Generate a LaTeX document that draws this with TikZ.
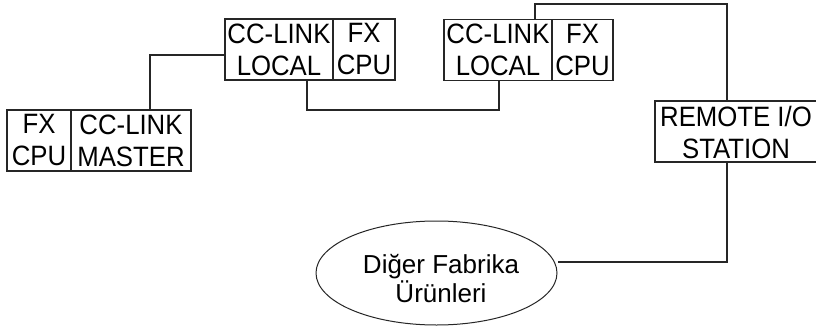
\documentclass[tikz,border=0pt]{standalone}
\usepackage{fontspec}
\setmainfont{Liberation Sans}
\newfontfamily\boxfont[FakeStretch=0.92]{Liberation Sans}
\usetikzlibrary{shapes.geometric}
\begin{document}
\begin{tikzpicture}[x=1pt,y=-1pt,
  box/.style={draw=black!85,line width=1.5pt,rectangle,inner sep=0pt,align=center,
    minimum height=61pt,font=\boxfont\fontsize{28}{32}\selectfont},
  wire/.style={draw=black!85,line width=1.5pt},
  cloud/.style={draw=black!85,line width=1pt,ellipse,inner sep=0pt,
    minimum width=241pt,minimum height=104pt}]
\fill[white] (0,0) rectangle (816,329);
\clip (0,0) rectangle (816,329);
% master
\node[box,minimum width=64pt] (m1) at (39,140.5) {FX\\CPU};
\node[box,minimum width=120pt] (m2) at (131,140.5) {CC-LINK\\MASTER};
% local 1
\node[box,minimum width=108pt] (l1a) at (279,49.5) {CC-LINK\\LOCAL};
\node[box,minimum width=62pt] (l1b) at (364,49.5) {FX\\CPU};
% local 2
\node[box,minimum width=108pt] (l2a) at (498,50) {CC-LINK\\LOCAL};
\node[box,minimum width=61pt] (l2b) at (582.5,50) {FX\\CPU};
% remote
\node[box,minimum width=180pt] (rem) at (745,131.5) {};
\node[align=center,inner sep=0pt,font=\boxfont\fontsize{28}{32}\selectfont] (remt) at (736,132) {REMOTE I/O\\STATION};
% ellipse
\node[cloud] (ell) at (436.5,273) {};
\node[align=center,inner sep=0pt,font=\fontsize{26}{29}\selectfont] (ellt) at (441,279) {Diğer Fabrika\\Ürünleri};
% wires
\coordinate (c1) at (150,55);
\draw[wire] (c1 |- m2.north) -- (c1) -- (c1 -| l1a.west);
\coordinate (c2) at (307,110);
\coordinate (c3) at (499,110);
\draw[wire] (c2 |- l1a.south) -- (c2) -- (c3) -- (c3 |- l2a.south);
\coordinate (c4) at (535,4);
\coordinate (c5) at (727,4);
\draw[wire] (c4 |- l2a.north) -- (c4) -- (c5) -- (c5 |- rem.north);
\coordinate (c6) at (727,262);
\draw[wire] (c6 |- rem.south) -- (c6) -- (c6 -| ell.east);
\end{tikzpicture}
\end{document}
